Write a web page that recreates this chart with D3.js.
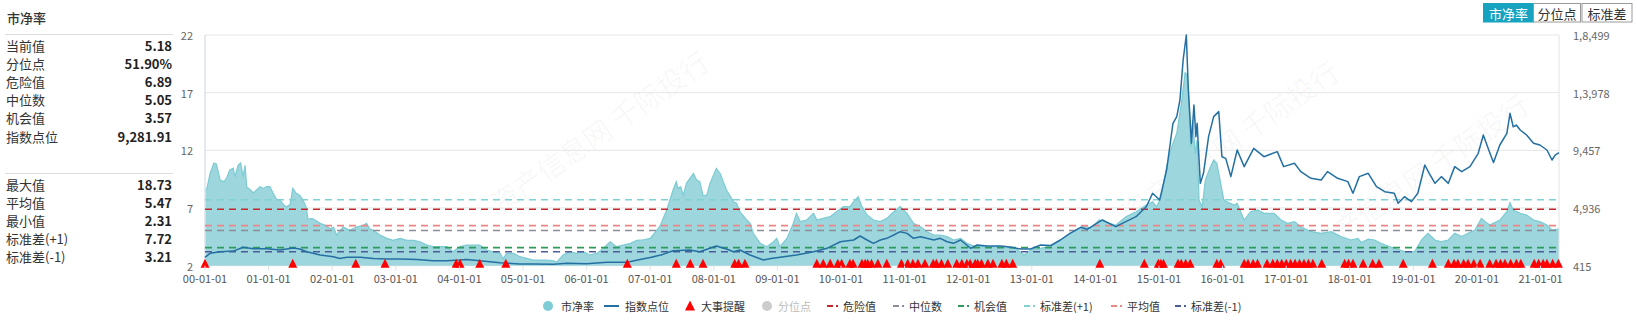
<!DOCTYPE html>
<html><head><meta charset="utf-8">
<script src="https://cdn.jsdelivr.net/npm/d3@7"></script>
<style>
body{margin:0;background:#fff;}
svg{display:block;font-family:"Noto Sans CJK SC","Noto Sans",sans-serif;}
</style></head><body>
<svg id="c" width="1637" height="320"></svg>
<script>
// ---------------- DATA ----------------
const xTickYears = [2000,2001,2002,2003,2004,2005,2006,2007,2008,2009,2010,2011,2012,2013,2014,2015,2016,2017,2018,2019,2020,2021];
const xTickLabels = ["00-01-01","01-01-01","02-01-01","03-01-01","04-01-01","05-01-01","06-01-01","07-01-01","08-01-01","09-01-01","10-01-01","11-01-01","12-01-01","13-01-01","14-01-01","15-01-01","16-01-01","17-01-01","18-01-01","19-01-01","20-01-01","21-01-01"];
const leftTicks = [2,7,12,17,22];
const rightTicks = [415,4936,9457,13978,18499];
const rightTickLabels = ["415","4,936","9,457","1,3,978","1,8,499"];

const pbDates = [
2000.00,2000.03,2000.08,2000.14,2000.18,2000.21,2000.24,2000.30,2000.34,2000.39,
2000.445,2000.47,2000.52,2000.56,2000.60,2000.63,2000.655,2000.71,2000.76,2000.865,
2000.92,2000.97,2001.02,2001.07,2001.13,2001.18,2001.23,2001.28,2001.34,2001.38,
2001.43,2001.49,2001.54,2001.59,2001.62,2001.68,2001.73,2001.81,2001.89,2001.97,
2002.02,2002.07,2002.17,2002.28,2002.38,2002.49,2002.54,2002.59,2002.65,2002.75,
2002.86,2002.96,2003.07,2003.17,2003.28,2003.38,2003.49,2003.59,2003.70,2003.80,
2003.90,2004.01,2004.11,2004.22,2004.32,2004.43,2004.53,2004.64,2004.69,2004.74,
2004.85,2004.95,2005.06,2005.16,2005.27,2005.37,2005.48,2005.53,2005.63,2005.74,
2005.84,2005.95,2006.05,2006.16,2006.26,2006.37,2006.47,2006.58,2006.69,2006.79,
2006.90,2007.00,2007.15,2007.26,2007.36,2007.41,2007.44,2007.48,2007.52,2007.57,
2007.68,2007.73,2007.78,2007.83,2007.89,2007.94,2008.04,2008.10,2008.20,2008.31,
2008.36,2008.41,2008.52,2008.57,2008.62,2008.73,2008.83,2008.94,2008.99,2009.04,
2009.15,2009.25,2009.30,2009.36,2009.46,2009.57,2009.62,2009.72,2009.83,2009.93,
2010.04,2010.14,2010.20,2010.27,2010.33,2010.41,2010.51,2010.62,2010.72,2010.83,
2010.93,2011.04,2011.14,2011.25,2011.35,2011.46,2011.56,2011.67,2011.77,2011.88,
2011.98,2012.09,2012.30,2012.51,2012.72,2012.88,2012.98,2013.14,2013.30,2013.45,
2013.61,2013.77,2013.85,2013.92,2014.06,2014.32,2014.48,2014.64,2014.80,2014.90,
2014.96,2015.04,2015.12,2015.20,2015.28,2015.36,2015.41,2015.44,2015.48,2015.50,
2015.53,2015.57,2015.60,2015.63,2015.68,2015.73,2015.81,2015.86,2015.91,2015.97,
2016.02,2016.07,2016.18,2016.23,2016.34,2016.44,2016.55,2016.65,2016.81,2016.92,
2017.02,2017.13,2017.23,2017.39,2017.55,2017.71,2017.86,2018.02,2018.13,2018.18,
2018.29,2018.39,2018.49,2018.70,2018.86,2019.02,2019.13,2019.23,2019.34,2019.44,
2019.55,2019.65,2019.76,2019.86,2019.97,2020.07,2020.13,2020.20,2020.36,2020.47,
2020.52,2020.57,2020.68,2020.78,2020.89,2020.99,2021.10,2021.18,2021.29];
const pbValues = [
8.5,8.7,10.0,10.9,10.8,10.1,9.4,9.3,9.6,10.3,
10.45,9.7,10.7,10.9,9.7,10.7,8.85,8.6,8.3,8.85,
8.7,8.85,8.85,8.3,7.7,7.7,7.3,7.1,7.3,8.7,
8.3,8.1,7.7,7.1,6.0,6.1,5.96,5.67,5.5,5.2,
5.35,4.66,5.35,5.06,5.35,5.5,5.67,5.2,5.06,4.66,
4.37,4.2,4.37,4.2,4.2,4.08,3.79,3.65,3.65,3.65,
3.21,3.65,3.79,3.79,3.79,3.36,3.21,3.07,2.6,3.07,
3.07,2.78,2.64,2.49,2.49,2.49,2.43,2.31,2.93,3.21,
3.07,3.21,2.93,3.07,3.5,4.08,3.65,3.79,3.94,4.2,
4.25,4.37,5.38,6.83,8.56,9.28,8.7,8.85,8.1,9.14,
10.0,9.43,9.28,8.1,8.1,9.14,10.44,10.0,8.56,7.55,
7.4,6.68,5.96,5.67,4.81,3.94,3.65,4.08,4.37,3.65,
4.37,5.67,6.54,5.82,5.96,6.54,5.96,6.1,6.25,6.68,
7.12,7.12,7.55,7.98,7.12,6.4,5.96,5.82,6.1,6.68,
7.12,6.54,5.67,5.38,4.95,4.66,4.66,4.52,4.23,4.37,
3.94,3.7,3.65,3.65,3.6,2.93,3.36,3.5,3.72,4.23,
4.81,5.33,5.5,5.2,5.96,5.5,6.25,6.68,7.26,7.55,
7.1,7.98,10.58,12.3,13.48,16.36,18.73,18.6,15.2,12.3,
14.63,11.74,12.9,7.7,7.1,9.43,10.58,11.16,10.87,9.14,
7.7,7.55,7.26,7.4,5.96,6.68,6.83,6.54,6.54,5.96,
5.67,5.82,5.38,4.95,4.81,4.95,4.52,4.23,4.37,4.0,
4.3,4.23,3.94,3.51,3.22,3.22,4.23,4.81,4.23,4.08,
4.23,4.81,4.52,4.81,5.1,6.1,5.82,5.53,5.96,6.68,
7.46,6.83,6.54,6.4,5.96,5.82,5.53,5.1,5.18];

const indexDates = [
2000.00,2000.08,2000.24,2000.445,2000.60,2000.76,2000.97,2001.18,2001.39,2001.49,
2001.60,2001.81,2002.02,2002.12,2002.23,2002.44,2002.65,2002.86,2003.07,2003.33,
2003.59,2003.80,2004.01,2004.11,2004.32,2004.64,2004.95,2005.16,2005.48,2005.69,
2006.00,2006.32,2006.64,2006.84,2007.00,2007.20,2007.36,2007.62,2007.78,2008.04,
2008.20,2008.31,2008.41,2008.57,2008.78,2008.90,2009.10,2009.30,2009.57,2009.78,
2009.99,2010.20,2010.30,2010.41,2010.51,2010.62,2010.72,2010.83,2010.93,2011.04,
2011.14,2011.25,2011.35,2011.46,2011.56,2011.67,2011.77,2011.88,2012.04,2012.14,
2012.30,2012.51,2012.62,2012.83,2012.98,2013.14,2013.30,2013.45,2013.60,2013.77,
2013.87,2013.92,2014.11,2014.32,2014.48,2014.64,2014.80,2014.90,2015.01,2015.12,
2015.22,2015.28,2015.33,2015.38,2015.43,2015.46,2015.51,2015.55,2015.58,2015.60,
2015.65,2015.70,2015.78,2015.86,2015.94,2015.99,2016.05,2016.13,2016.23,2016.34,
2016.49,2016.65,2016.86,2016.96,2017.13,2017.23,2017.39,2017.55,2017.65,2017.81,
2017.97,2018.05,2018.15,2018.29,2018.42,2018.55,2018.70,2018.76,2018.86,2018.97,
2019.07,2019.18,2019.25,2019.34,2019.44,2019.55,2019.65,2019.76,2019.89,2020.02,
2020.10,2020.20,2020.26,2020.36,2020.47,2020.52,2020.57,2020.62,2020.68,2020.78,
2020.89,2020.99,2021.10,2021.18,2021.23,2021.29];
const indexValues = [
1073,1387,1512,1560,1857,1748,1748,1646,1800,1720,
1510,1254,1120,985,1073,1073,985,935,935,900,
807,807,855,900,807,650,548,548,530,600,
575,680,680,900,1050,1300,1591,1646,1510,1959,
1720,1510,1646,1254,862,985,1120,1254,1510,1778,
2296,2430,2743,2430,2170,2430,2560,2821,3080,2950,
2560,2690,2560,2430,2560,2296,2170,2430,1778,2040,
1959,1959,1907,1720,1720,2040,2000,2430,2950,3425,
3270,3425,4000,3476,3869,4256,5040,6090,5560,7917,
11580,12100,13405,16540,18499,14450,10010,13010,10530,11580,
6870,7657,10530,12100,12490,8960,8830,7396,9485,8180,
9616,8960,9355,8180,8440,7790,7266,7135,7790,7266,
7005,6090,7396,7657,6610,6220,6090,5305,5827,5435,
6090,8310,7657,6870,7396,6870,8180,7790,8180,9226,
10660,9290,8500,9877,10795,12360,11310,11440,11050,10660,
10010,9877,9485,8700,9090,9282];

const eventDates = [
2000.00,2001.38,2002.37,2002.83,2003.95,2004.01,2004.32,2004.73,2006.64,2007.41,
2007.63,2007.83,2008.33,2008.39,2008.49,2009.62,2009.72,2009.83,2009.95,2010.01,
2010.14,2010.19,2010.33,2010.38,2010.42,2010.48,2010.58,2010.72,2010.95,2011.05,
2011.13,2011.21,2011.32,2011.45,2011.50,2011.58,2011.68,2011.82,2011.90,2011.98,
2012.03,2012.11,2012.15,2012.21,2012.31,2012.39,2012.53,2012.60,2012.70,2014.07,
2014.77,2014.99,2015.03,2015.07,2015.30,2015.35,2015.42,2015.49,2015.91,2015.97,
2016.34,2016.40,2016.48,2016.55,2016.70,2016.79,2016.86,2016.93,2017.00,2017.07,
2017.14,2017.21,2017.28,2017.35,2017.42,2017.56,2017.92,2017.98,2018.05,2018.21,
2018.36,2018.46,2018.84,2019.30,2019.55,2019.64,2019.70,2019.79,2019.86,2019.95,
2020.05,2020.20,2020.30,2020.37,2020.44,2020.53,2020.62,2020.69,2020.90,2020.97,
2021.04,2021.10,2021.19,2021.28];

const refNames = ["标准差(+1)","危险值","平均值","中位数","机会值","标准差(-1)"];
const refValues = [7.72,6.89,5.47,5.05,3.57,3.21];

const statLabels1 = ["当前值","分位点","危险值","中位数","机会值","指数点位"];
const statValues1 = ["5.18","51.90%","6.89","5.05","3.57","9,281.91"];
const statLabels2 = ["最大值","平均值","最小值","标准差(+1)","标准差(-1)"];
const statValues2 = ["18.73","5.47","2.31","7.72","3.21"];

const legendNames = ["市净率","指数点位","大事提醒","分位点","危险值","中位数","机会值","标准差(+1)","平均值","标准差(-1)"];
const buttonLabels = ["市净率","分位点","标准差"];

// ---------------- STYLE ----------------
const refColors = {"标准差(+1)":"#7fd2d4","危险值":"#c3282c","平均值":"#ee8585","中位数":"#8b8d98","机会值":"#2f9a5c","标准差(-1)":"#4d5b98"};
const areaFill = "#9dd6dd", areaStroke = "#7ccbd3", indexColor = "#2470a2";

const svg = d3.select("#c");
const L = 205, R = 1559, T = 35, B = 265.7;
const x = d3.scaleLinear().domain([2000, 2021.29]).range([L, R]);
const y = d3.scaleLinear().domain([2, 22]).range([B, T]);
const yR = d3.scaleLinear().domain([415, 18499]).range([B, T]);

// watermark (faint)
const wm = svg.append("g").attr("fill","#000").attr("fill-opacity",0.035).attr("font-size",28);
[[500,215],[1130,225],[1320,258]].forEach(p=>{
  wm.append("text").attr("transform",`translate(${p[0]},${p[1]}) rotate(-35)`).text("资产信息网 千际投行");
});

// gridlines
svg.append("g").selectAll("line").data(leftTicks).join("line")
  .attr("x1",L).attr("x2",R).attr("y1",d=>y(d)).attr("y2",d=>y(d))
  .attr("stroke","#e6e6e6").attr("stroke-width",1);

// area
const pb = pbDates.map((d,i)=>({t:d,v:pbValues[i]}));
svg.append("path").datum(pb)
  .attr("d",d3.area().x(d=>x(d.t)).y0(B).y1(d=>y(d.v)))
  .attr("fill",areaFill);
svg.append("path").datum(pb)
  .attr("d",d3.line().x(d=>x(d.t)).y(d=>y(d.v)))
  .attr("fill","none").attr("stroke",areaStroke).attr("stroke-width",1.2);

// borders
svg.append("line").attr("x1",L).attr("x2",L).attr("y1",T).attr("y2",B).attr("stroke","#dde3ec").attr("stroke-width",1.5);
svg.append("line").attr("x1",R).attr("x2",R).attr("y1",T).attr("y2",B).attr("stroke","#e3e3e3").attr("stroke-width",1);

// ref lines
svg.append("g").selectAll("line").data(refNames).join("line")
  .attr("x1",L).attr("x2",R)
  .attr("y1",(d,i)=>y(refValues[i])).attr("y2",(d,i)=>y(refValues[i]))
  .attr("stroke",d=>refColors[d]).attr("stroke-width",1.6).attr("stroke-dasharray","7,5");

// index line
const idx = indexDates.map((d,i)=>({t:d,v:indexValues[i]}));
svg.append("path").datum(idx)
  .attr("d",d3.line().x(d=>x(d.t)).y(d=>yR(d.v)))
  .attr("fill","none").attr("stroke",indexColor).attr("stroke-width",1.5).attr("stroke-linejoin","round");

// event triangles
svg.append("g").selectAll("path").data(eventDates).join("path")
  .attr("transform",d=>`translate(${x(d)},${B-2})`)
  .attr("d","M-4.5,4 L4.5,4 L0,-5 Z").attr("fill","#f00");

// x axis ticks & labels
const xt = svg.append("g");
xt.selectAll("line").data(xTickYears).join("line")
  .attr("x1",d=>x(d)).attr("x2",d=>x(d)).attr("y1",B).attr("y2",B+5)
  .attr("stroke","#dfe4ee");
xt.selectAll("text").data(xTickYears).join("text")
  .attr("x",d=>x(d)).attr("y",278).attr("text-anchor","middle").attr("dominant-baseline","central")
  .attr("font-size",11).attr("fill","#555").text((d,i)=>xTickLabels[i]);

// y axes labels
svg.append("g").selectAll("text").data(leftTicks).join("text")
  .attr("x",193).attr("y",d=>y(d)).attr("text-anchor","end").attr("dominant-baseline","central")
  .attr("font-size",11).attr("fill","#666").text(d=>d);
svg.append("g").selectAll("text").data(rightTicks).join("text")
  .attr("x",1573).attr("y",d=>yR(d)).attr("text-anchor","start").attr("dominant-baseline","central")
  .attr("font-size",11).attr("fill","#666").text((d,i)=>rightTickLabels[i]);

// left panel
svg.append("text").attr("x",7).attr("y",17).attr("dominant-baseline","central")
  .attr("font-size",13).attr("fill","#333").attr("font-weight",500).text("市净率");
svg.append("line").attr("x1",5).attr("x2",173).attr("y1",34.5).attr("y2",34.5).attr("stroke","#ddd");
svg.append("line").attr("x1",5).attr("x2",173).attr("y1",173.5).attr("y2",173.5).attr("stroke","#ddd");
function panel(labels, values, y0){
  const g = svg.append("g");
  labels.forEach((l,i)=>{
    g.append("text").attr("x",6).attr("y",y0+i*18.2).attr("dominant-baseline","central")
      .attr("font-size",13).attr("fill","#333").text(l);
    g.append("text").attr("x",172).attr("y",y0+i*18.2).attr("dominant-baseline","central")
      .attr("text-anchor","end").attr("font-size",13).attr("font-weight","bold").attr("fill","#222").text(values[i]);
  });
}
panel(statLabels1, statValues1, 45);
panel(statLabels2, statValues2, 184);

// buttons
const bx = [1483,1533,1581.5], bw = [50,47,50];
buttonLabels.forEach((b,i)=>{
  const active = i===0;
  svg.append("rect").attr("x",bx[i]+0.5).attr("y",3.5).attr("width",bw[i]).attr("height",18.5)
    .attr("fill",active?"#17a3c0":"#fff").attr("stroke",active?"#17a3c0":"#9a9a9a");
  svg.append("text").attr("x",bx[i]+bw[i]/2+0.5).attr("y",13).attr("text-anchor","middle").attr("dominant-baseline","central")
    .attr("font-size",13).attr("fill",active?"#fff":"#333").text(b);
});

// legend
const ly = 306;
const lg = svg.append("g").attr("font-size",11);
const legendX = [548,609,690,767,827,893,958,1024,1111,1175];
legendNames.forEach((n,i)=>{
  const lx = legendX[i];
  let tx = lx+13;
  if(i===0){ lg.append("circle").attr("cx",lx).attr("cy",ly).attr("r",5).attr("fill","#7ecdd6"); tx=lx+13; }
  else if(i===1){ lg.append("line").attr("x1",lx-5).attr("x2",lx+10).attr("y1",ly).attr("y2",ly).attr("stroke",indexColor).attr("stroke-width",2); tx=lx+16; }
  else if(i===2){ lg.append("path").attr("transform",`translate(${lx},${ly})`).attr("d","M-5,4.5 L5,4.5 L0,-5.5 Z").attr("fill","#f00"); tx=lx+11; }
  else if(i===3){ lg.append("circle").attr("cx",lx).attr("cy",ly).attr("r",5).attr("fill","#ccc"); tx=lx+11; }
  else { lg.append("line").attr("x1",lx).attr("x2",lx+11).attr("y1",ly).attr("y2",ly).attr("stroke",refColors[n]).attr("stroke-width",2).attr("stroke-dasharray","6,3,2,3"); tx=lx+16; }
  lg.append("text").attr("x",tx).attr("y",ly).attr("dominant-baseline","central")
    .attr("fill",i===3?"#bbb":"#333").text(n);
});
</script>
</body></html>
